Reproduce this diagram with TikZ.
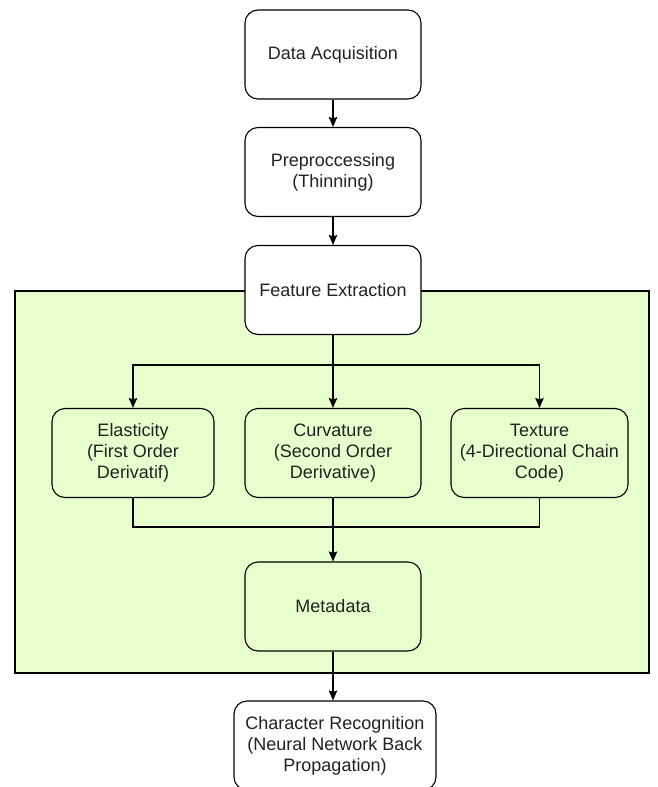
\documentclass[tikz,border=0pt]{standalone}
\usepackage{fontspec}
\setmainfont{Liberation Sans}
\usetikzlibrary{arrows.meta}
\definecolor{grn}{HTML}{E6FFCC}
\definecolor{txt}{HTML}{222222}
\begin{document}
\begin{tikzpicture}[x=1pt,y=-1pt,
  box/.style={draw=black, line width=1.1pt, rounded corners=13pt, minimum height=89pt,
    align=center, inner sep=0pt, text=txt, font=\fontsize{18}{21}\selectfont},
  wbox/.style={box, fill=white},
  gbox/.style={box, fill=grn},
  arr/.style={draw=black, line width=1.2pt, -{Stealth[length=10pt,width=8.5pt,inset=1.5pt]}},
  ln/.style={draw=black, line width=1.2pt}
]
\useasboundingbox (0,0) rectangle (657,787);
\clip (0,0) rectangle (657,787);
% group background
\draw[fill=grn, draw=black, line width=1.1pt] (15,291) rectangle (649,673);
% nodes
\node[wbox, minimum width=176pt] (da) at (333,54.5) {Data Acquisition};
\node[wbox, minimum width=176pt] (pp) at (333,172) {Preproccessing\\(Thinning)};
\node[wbox, minimum width=176pt] (fe) at (333,290) {Feature Extraction};
\node[gbox, minimum width=162pt] (el) at (133,453) {Elasticity\\(First Order\\Derivatif)};
\node[gbox, minimum width=176pt] (cu) at (333,453) {Curvature\\(Second Order\\Derivative)};
\node[gbox, minimum width=177pt] (tx) at (539.5,453) {Texture\\(4-Directional Chain\\Code)};
\node[gbox, minimum width=176pt] (md) at (333,606.5) {Metadata};
\node[wbox, minimum width=202pt] (cr) at (335,745.5) {Character Recognition\\(Neural Network Back\\Propagation)};
\coordinate (split) at (333,365);
\coordinate (merge) at (333,527);
% connectors
\draw[arr] (da) -- (pp);
\draw[arr] (pp) -- (fe);
\draw[arr] (fe.south) -- (cu.north);
\draw[arr] (split) -| (el.north);
\draw[arr] (split) -| (tx.north);
\draw[ln] (el.south) |- (merge);
\draw[ln] (tx.south) |- (merge);
\draw[arr] (cu) -- (md);
\draw[arr] (md.south) -- (md.south |- cr.north);
\end{tikzpicture}
\end{document}
